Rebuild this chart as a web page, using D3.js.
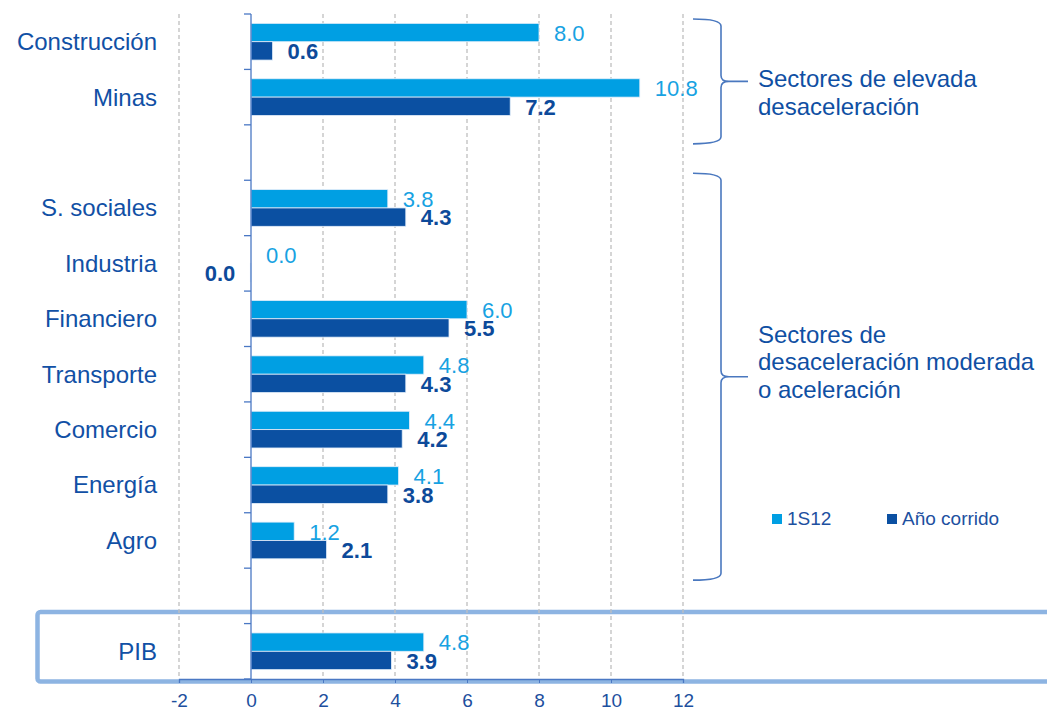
<!DOCTYPE html>
<html lang="es">
<head>
<meta charset="UTF-8" />
<title>Crecimiento por sectores</title>
<script src="https://d3js.org/d3.v7.min.js"></script>
<style>
  html, body { margin: 0; padding: 0; background: #fff; }
  svg { display: block; font-family: "Liberation Sans", Arial, sans-serif; }
  .cat { font-size: 24px; fill: #1150a5; text-anchor: end; }
  .tick-label { font-size: 19px; fill: #1d4f9e; text-anchor: middle; }
  .grid { stroke: #bfbfbf; stroke-width: 1.3; stroke-dasharray: 4,3; }
  .val1 { font-size: 22px; fill: #17a2e2; }
  .val2 { font-size: 22px; fill: #0d4a9a; font-weight: bold; }
  .brace { fill: none; stroke: #4a78bf; stroke-width: 1.6; }
  .note { font-size: 24px; fill: #0f4fa3; }
  .legend { font-size: 19px; fill: #1d50a0; }
</style>
</head>
<body>
<div id="chart"></div>
<script>
// datos
const categories = ["Construcción", "Minas", "S. sociales", "Industria", "Financiero",
                    "Transporte", "Comercio", "Energía", "Agro", "PIB"];
const serie1S12 = [8.0, 10.8, 3.8, 0.0, 6.0, 4.8, 4.4, 4.1, 1.2, 4.8];
const serieAnoCorrido = [0.6, 7.2, 4.3, -0.02, 5.5, 4.3, 4.2, 3.8, 2.1, 3.9];
const seriesNames = ["1S12", "Año corrido"];
const seriesColors = ["#009fe3", "#0b50a2"];
const xTicks = [-2, 0, 2, 4, 6, 8, 10, 12];
const gapsAfter = ["Minas", "Agro"];
const groupLabels = [
  ["Sectores de elevada", "desaceleración"],
  ["Sectores de", "desaceleración moderada", "o aceleración"]
];
const groupRanges = [["Construcción", "Minas"], ["S. sociales", "Agro"]];

const width = 1047, height = 711;

const svg = d3.select("#chart").append("svg")
  .attr("width", width)
  .attr("height", height);

// slots with empty spacer rows
const slots = [];
categories.forEach(c => {
  slots.push(c);
  if (gapsAfter.includes(c)) slots.push("gap-" + c);
});

const x = d3.scaleLinear().domain([-2, 12]).range([179, 683]);
const y = d3.scaleBand().domain(slots).range([14, 679]).paddingInner(0).paddingOuter(0);
const ySub = d3.scaleBand().domain(seriesNames).range([0, y.bandwidth()]).paddingOuter(0.51).paddingInner(0);

const rows = categories.map((c, i) => ({ cat: c, values: [serie1S12[i], serieAnoCorrido[i]] }));

// PIB box
svg.append("rect")
  .attr("x", 37.5).attr("y", y("PIB") - 11.5)
  .attr("width", 1100).attr("height", y.bandwidth() + 14)
  .attr("rx", 3)
  .attr("fill", "none")
  .attr("stroke", "#8db4e2")
  .attr("stroke-width", 4.5);

// gridlines
svg.append("g").selectAll("line")
  .data(xTicks.filter(t => t !== 0))
  .join("line")
  .attr("class", "grid")
  .attr("x1", d => x(d)).attr("x2", d => x(d))
  .attr("y1", y.range()[0]).attr("y2", y.range()[1]);

// bars
const rowG = svg.append("g").selectAll("g")
  .data(rows)
  .join("g")
  .attr("transform", d => `translate(0,${y(d.cat)})`);

rowG.selectAll("rect")
  .data(d => d.values.map((v, k) => ({ v, k })))
  .join("rect")
  .attr("x", d => x(Math.min(0, d.v)))
  .attr("width", d => Math.abs(x(d.v) - x(0)))
  .attr("y", d => ySub(seriesNames[d.k]))
  .attr("height", ySub.bandwidth())
  .attr("fill", d => seriesColors[d.k])
  .attr("stroke", "#e3eefa")
  .attr("stroke-width", 0.8);

const fmt = d3.format(".1f");
rowG.selectAll("text.v")
  .data(d => d.values.map((v, k) => ({ v, k })))
  .join("text")
  .attr("class", d => "v " + (d.k === 0 ? "val1" : "val2"))
  .attr("x", d => d.v < 0 ? x(d.v) - 15 : x(d.v) + 15)
  .attr("text-anchor", d => d.v < 0 ? "end" : "start")
  .attr("y", d => ySub(seriesNames[d.k]) + ySub.bandwidth() / 2)
  .attr("dy", "0.38em")
  .text(d => fmt(d.v));

// category labels
svg.append("g").selectAll("text")
  .data(categories)
  .join("text")
  .attr("class", "cat")
  .attr("x", 157)
  .attr("y", d => y(d) + y.bandwidth() / 2)
  .attr("dy", "0.35em")
  .text(d => d);

// y axis (category axis at zero)
const axisColor = "#4a78c4";
svg.append("line")
  .attr("x1", x(0)).attr("x2", x(0))
  .attr("y1", y.range()[0]).attr("y2", y.range()[1])
  .attr("stroke", axisColor).attr("stroke-width", 1.3);
svg.append("g").selectAll("line")
  .data(d3.range(slots.length + 1))
  .join("line")
  .attr("x1", x(0) - 7).attr("x2", x(0))
  .attr("y1", i => y.range()[0] + i * y.step())
  .attr("y2", i => y.range()[0] + i * y.step())
  .attr("stroke", axisColor).attr("stroke-width", 1.3);

// x axis
const xAxis = svg.append("g")
  .attr("transform", `translate(0,${y.range()[1]})`)
  .call(d3.axisBottom(x).tickValues(xTicks).tickSize(4).tickFormat(d3.format("d")));
xAxis.attr("font-family", null).attr("font-size", null);
xAxis.select(".domain").attr("stroke", axisColor).attr("stroke-width", 1.3);
xAxis.selectAll(".tick line").attr("stroke", axisColor);
xAxis.selectAll(".tick text")
  .attr("class", "tick-label")
  .attr("y", 28)
  .attr("dy", "0")
  .attr("fill", null)
  .text(d => d < 0 ? "-" + Math.abs(d) : d);

// braces
function bracePath(x0, xs, xt, y0, y1, ym) {
  return `M${x0},${y0} Q${xs},${y0} ${xs},${y0 + 7} L${xs},${ym - 6} Q${xs},${ym} ${xs + 8},${ym} L${xt},${ym}` +
         ` M${xs + 8},${ym} Q${xs},${ym} ${xs},${ym + 6} L${xs},${y1 - 7} Q${xs},${y1} ${x0},${y1}`;
}
const braceDefs = [
  { top: y(groupRanges[0][0]) + 5, bottom: y(groupRanges[0][1]) + y.bandwidth() + 19, textDy: 6 },
  { top: y(groupRanges[1][0]) - 7, bottom: y(groupRanges[1][1]) + y.bandwidth() + 12, textDy: -34 }
];
braceDefs.forEach((b, i) => {
  const mid = (b.top + b.bottom) / 2;
  svg.append("path")
    .attr("class", "brace")
    .attr("d", bracePath(693, 721, 748, b.top, b.bottom, mid));
  const t = svg.append("text").attr("class", "note").attr("x", 758).attr("y", mid + b.textDy);
  groupLabels[i].forEach((line, j) => {
    t.append("tspan").attr("x", 758).attr("dy", j === 0 ? 0 : 27.5).text(line);
  });
});

// legend
const legend = svg.append("g").selectAll("g")
  .data(seriesNames)
  .join("g")
  .attr("transform", (d, i) => `translate(${772 + i * 115},514)`);
legend.append("rect")
  .attr("width", 10).attr("height", 10)
  .attr("fill", (d, i) => seriesColors[i]);
legend.append("text")
  .attr("class", "legend")
  .attr("x", 15).attr("y", 11)
  .text(d => d);
</script>
</body>
</html>
